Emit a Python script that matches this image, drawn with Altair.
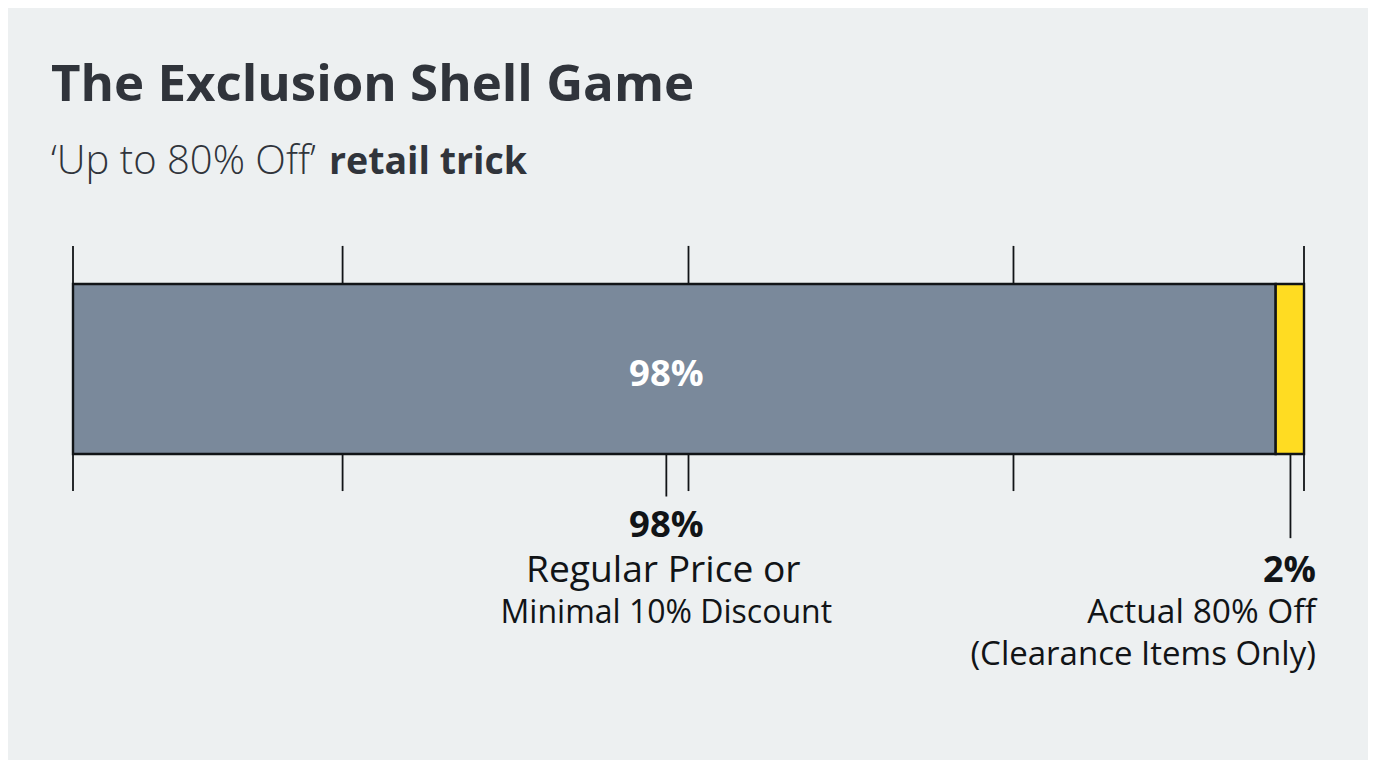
import altair as alt
import pandas as pd

FONT = 'Open Sans'
BG = '#EDF0F1'
INK = '#111417'

segments = ['Regular Price or Minimal 10% Discount', 'Clearance']
seg_start = [0, 97.7]
seg_end = [97.7, 100]
seg_color = ['#7A899B', '#FFDC22']

tick_pos = [0, 21.9, 50, 76.4, 100]
leader_pos = [48.2, 98.9]
leader_end = [-0.25, -0.495]

# x and y share these scales across every layer
x_scale = alt.Scale(domain=[0, 100], range=[65, 1296])
y_scale = alt.Scale(domain=[0, 1], range=[446, 276])
X = alt.X('x:Q', scale=x_scale, axis=None)
Y = alt.Y('y:Q', scale=y_scale, axis=None)

seg_df = pd.DataFrame({'seg': segments, 'x': seg_start, 'x2': seg_end, 'y': [0, 0], 'y2': [1, 1]})
bars = alt.Chart(seg_df).mark_rect(stroke=INK, strokeWidth=2.4).encode(
    x=X, x2='x2:Q', y=Y, y2='y2:Q',
    color=alt.Color('seg:N', scale=alt.Scale(domain=segments, range=seg_color), legend=None)
)

ticks_up = alt.Chart(pd.DataFrame({'x': tick_pos, 'y': [1] * 5, 'y2': [1.224] * 5})).mark_rule(
    color=INK, strokeWidth=1.8).encode(x=X, y=Y, y2='y2:Q')
ticks_down = alt.Chart(pd.DataFrame({'x': tick_pos, 'y': [0] * 5, 'y2': [-0.218] * 5})).mark_rule(
    color=INK, strokeWidth=1.8).encode(x=X, y=Y, y2='y2:Q')
leaders = alt.Chart(pd.DataFrame({'x': leader_pos, 'y': [0, 0], 'y2': leader_end})).mark_rule(
    color=INK, strokeWidth=1.8).encode(x=X, y=Y, y2='y2:Q')


def label(text, x, y, size, weight='normal', align='center', color=INK):
    return alt.Chart(pd.DataFrame({'x': [x], 'y': [y], 't': [text]})).mark_text(
        font=FONT, fontSize=size, fontWeight=weight, align=align, baseline='alphabetic', color=color
    ).encode(x=X, y=Y, text='t:N')


def head(text, px, py, size, weight, color='#30343B'):
    return alt.Chart(pd.DataFrame({'t': [text]})).mark_text(
        font=FONT, fontSize=size, fontWeight=weight, align='left', baseline='alphabetic', color=color
    ).encode(x=alt.value(px), y=alt.value(py), text='t:N')


texts = [
    head('The Exclusion Shell Game', 43, 93, 51, 'bold'),
    head('‘Up to 80% Off’', 43, 166, 40, 300),
    head('retail trick', 321, 166, 37.5, 'bold'),
    label('98%', 48.2, 0.40, 36.5, 'bold', color='white'),
    label('98%', 48.2, -0.49, 36.5, 'bold'),
    label('Regular Price or', 47.95, -0.752, 37.2),
    label('Minimal 10% Discount', 48.2, -0.995, 32),
    label('2%', 100.97, -0.752, 36, 'bold', 'right'),
    label('Actual 80% Off', 100.97, -0.995, 33.5, 'normal', 'right'),
    label('(Clearance Items Only)', 100.97, -1.24, 33, 'normal', 'right'),
]

chart = alt.layer(bars, ticks_up, ticks_down, leaders, *texts).properties(
    width=1360, height=752, background=BG, padding=0,
    autosize=alt.AutoSizeParams(type='none')
).configure_view(stroke=None)

chart.save("out.html", embed_options={"renderer": "svg", "actions": False})
